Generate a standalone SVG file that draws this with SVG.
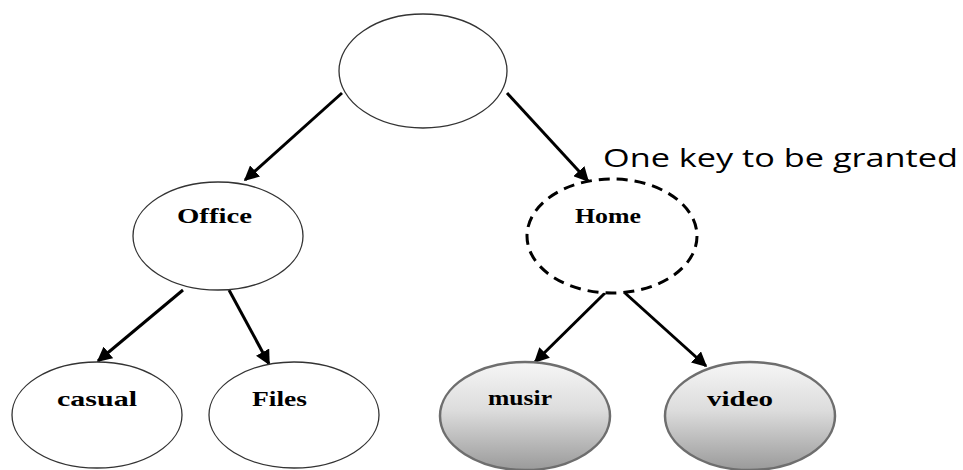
<svg xmlns="http://www.w3.org/2000/svg" width="963" height="470" viewBox="0 0 963 470">
<defs>
<linearGradient id="g" x1="0" y1="0" x2="0" y2="1">
<stop offset="0" stop-color="#f6f6f6"/>
<stop offset="0.45" stop-color="#dcdcdc"/>
<stop offset="1" stop-color="#9a9a9a"/>
</linearGradient>
<marker id="ah" viewBox="0 0 10 10" refX="9" refY="5" markerWidth="5" markerHeight="5" markerUnits="strokeWidth" orient="auto">
<path d="M0,0 L10,5 L0,10 z" fill="#000"/>
</marker>
</defs>
<style>
.n{fill:#fff;stroke:#333;stroke-width:1.3}
.d{fill:#fff;stroke:#000;stroke-width:3;stroke-dasharray:11 7}
.s{fill:url(#g);stroke:#6e6e6e;stroke-width:2.5}
.t{font-family:"Liberation Serif","Times New Roman",serif;font-weight:bold;font-size:21px;fill:#000}
.c line{stroke:#000;stroke-width:3;marker-end:url(#ah)}
.k{font-family:"Open Sans","Noto Sans",sans-serif;font-size:25px;fill:#000}
</style>
<rect width="963" height="470" fill="#fff"/>
<g class="c" id="connectors">
<line x1="342" y1="93" x2="245" y2="180"/>
<line x1="507" y1="93" x2="588" y2="181"/>
<line x1="183" y1="290" x2="98" y2="361"/>
<line x1="229" y1="290" x2="269" y2="364"/>
<line x1="605" y1="293" x2="535" y2="362"/>
<line x1="625" y1="293" x2="706" y2="366"/>
</g>
<g id="root"><ellipse class="n" cx="423" cy="71" rx="84" ry="57"/></g>
<g id="office"><ellipse class="n" cx="218" cy="236" rx="85" ry="54"/><text class="t" x="177" y="223" textLength="75" lengthAdjust="spacingAndGlyphs">Office</text></g>
<g id="home"><ellipse class="d" cx="612" cy="236" rx="85" ry="57"/><text class="t" x="575" y="223" textLength="66" lengthAdjust="spacingAndGlyphs">Home</text></g>
<g id="casual"><ellipse class="n" cx="97" cy="415" rx="85" ry="53"/><text class="t" x="57" y="406" textLength="80" lengthAdjust="spacingAndGlyphs">casual</text></g>
<g id="files"><ellipse class="n" cx="294" cy="415" rx="85" ry="53"/><text class="t" x="252" y="406" textLength="55" lengthAdjust="spacingAndGlyphs">Files</text></g>
<g id="music"><ellipse class="s" cx="525" cy="416" rx="85" ry="54"/><text class="t" x="488" y="405" textLength="64" lengthAdjust="spacingAndGlyphs">musir</text></g>
<g id="video"><ellipse class="s" cx="750" cy="416" rx="85" ry="54"/><text class="t" x="707" y="406" textLength="66" lengthAdjust="spacingAndGlyphs">video</text></g>
<g id="note"><text class="k" x="603" y="167" textLength="355" lengthAdjust="spacingAndGlyphs">One key to be granted</text></g>
</svg>
